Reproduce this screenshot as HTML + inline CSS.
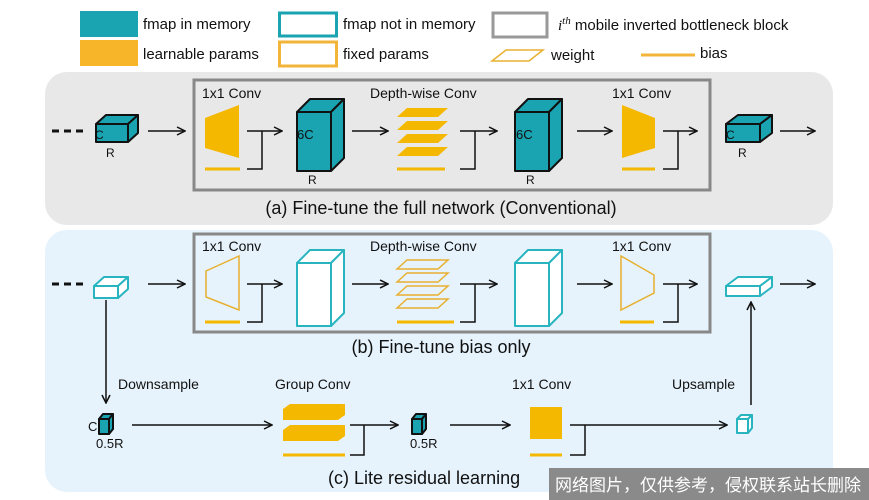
<!DOCTYPE html>
<html><head><meta charset="utf-8"><style>
body{margin:0;background:#fff}
svg{display:block}
text{font-family:"Liberation Sans",Arial,sans-serif;fill:#111}
</style></head><body>
<svg width="869" height="500" viewBox="0 0 869 500" xmlns="http://www.w3.org/2000/svg">
<defs>
<marker id="ar" markerWidth="10" markerHeight="10" refX="9" refY="5" orient="auto" markerUnits="userSpaceOnUse">
<path d="M1,1 L9,5 L1,9" fill="none" stroke="#111" stroke-width="1.5"/></marker>
</defs>
<rect width="869" height="500" fill="#fff"/>
<!-- legend -->
<rect x="80" y="11" width="58" height="26" fill="#1aa3b0"/>
<text x="143" y="29" font-size="15">fmap in memory</text>
<rect x="80" y="40" width="58" height="26" fill="#f7b52a"/>
<text x="143" y="59" font-size="15">learnable params</text>
<rect x="279.500" y="13" width="57" height="23" fill="none" stroke="#1aa3b0" stroke-width="3"/>
<text x="343" y="29" font-size="15">fmap not in memory</text>
<rect x="279.500" y="42" width="57" height="24" fill="none" stroke="#f2b53a" stroke-width="3"/>
<text x="343" y="59" font-size="15">fixed params</text>
<rect x="493" y="13" width="54" height="24" fill="none" stroke="#999" stroke-width="3"/>
<text x="558" y="30" font-size="15"><tspan font-family="Liberation Serif" font-style="italic">i</tspan><tspan font-family="Liberation Serif" font-style="italic" font-size="11" dy="-6">th</tspan><tspan dy="6"> mobile inverted bottleneck block</tspan></text>
<polygon points="492,61 506,50 543,50 529,61" fill="none" stroke="#e8b030" stroke-width="1.5"/>
<text x="551" y="60" font-size="15">weight</text>
<line x1="641" y1="55" x2="695" y2="55" stroke="#f2b53a" stroke-width="3"/>
<text x="700" y="58" font-size="15">bias</text>

<!-- panel a -->
<rect x="45" y="72" width="788" height="153" rx="22" fill="#e8e8e8"/>
<rect x="194" y="80" width="516" height="110" fill="none" stroke="#888" stroke-width="3"/>
<text x="441" y="214" font-size="18" text-anchor="middle">(a) Fine-tune the full network (Conventional)</text>
<text x="202" y="98" font-size="14">1x1 Conv</text>
<text x="370" y="98" font-size="14">Depth-wise Conv</text>
<text x="612" y="98" font-size="14">1x1 Conv</text>
<line x1="52" y1="131" x2="86" y2="131" stroke="#111" stroke-width="3" stroke-dasharray="7,5"/>
<g fill="#1aa3b0" stroke="#111" stroke-width="2" stroke-linejoin="round">
<polygon points="96,124 106,115 138,115 128,124"/><polygon points="128,124 138,115 138,133 128,142"/><rect x="96" y="124" width="32" height="18"/>
<polygon points="297,112 310,99 344,99 331,112"/><polygon points="331,112 344,99 344,158 331,171"/><rect x="297" y="112" width="34" height="59"/>
<polygon points="515,112 528,99 562,99 549,112"/><polygon points="549,112 562,99 562,158 549,171"/><rect x="515" y="112" width="34" height="59"/>
<polygon points="726,124 738,115 772,115 760,124"/><polygon points="760,124 772,115 772,133 760,142"/><rect x="726" y="124" width="34" height="18"/>
</g>
<text x="95" y="139" font-size="12">C</text><text x="106" y="157" font-size="12">R</text>
<text x="297" y="139" font-size="13">6C</text><text x="308" y="184" font-size="12">R</text>
<text x="516" y="139" font-size="13">6C</text><text x="526" y="184" font-size="12">R</text>
<text x="726" y="139" font-size="12">C</text><text x="738" y="157" font-size="12">R</text>
<g fill="#f5b800">
<polygon points="205,118 239,105 239,158 205,148"/>
<polygon points="622,105 655,118 655,148 622,158"/>
<polygon points="397,117 407,108 448,108 438,117"/>
<polygon points="397,130 407,121 448,121 438,130"/>
<polygon points="397,143 407,134 448,134 438,143"/>
<polygon points="397,156 407,147 448,147 438,156"/>
</g>
<g stroke="#f5b800" stroke-width="3"><line x1="205" y1="169" x2="240" y2="169"/><line x1="397" y1="169" x2="445" y2="169"/><line x1="622" y1="169" x2="655" y2="169"/></g>
<g stroke="#111" stroke-width="1.5" fill="none">
<line x1="148" y1="131" x2="185" y2="131" marker-end="url(#ar)"/>
<line x1="247" y1="131" x2="282" y2="131" marker-end="url(#ar)"/>
<polyline points="247,169 262,169 262,131"/>
<line x1="352" y1="131" x2="388" y2="131" marker-end="url(#ar)"/>
<line x1="460" y1="131" x2="497" y2="131" marker-end="url(#ar)"/>
<polyline points="460,169 475,169 475,131"/>
<line x1="577" y1="131" x2="612" y2="131" marker-end="url(#ar)"/>
<line x1="663" y1="131" x2="697" y2="131" marker-end="url(#ar)"/>
<polyline points="663,169 678,169 678,131"/>
<line x1="780" y1="131" x2="815" y2="131" marker-end="url(#ar)"/>
</g>

<!-- panel b/c -->
<rect x="45" y="230" width="788" height="262" rx="22" fill="#e6f3fc"/>
<rect x="194" y="234" width="516" height="98" fill="none" stroke="#888" stroke-width="3"/>
<text x="441" y="353" font-size="18" text-anchor="middle">(b) Fine-tune bias only</text>
<text x="202" y="251" font-size="14">1x1 Conv</text>
<text x="370" y="251" font-size="14">Depth-wise Conv</text>
<text x="612" y="251" font-size="14">1x1 Conv</text>
<line x1="52" y1="284" x2="86" y2="284" stroke="#111" stroke-width="3" stroke-dasharray="7,5"/>
<g fill="#fff" stroke="#29b5c0" stroke-width="2" stroke-linejoin="round">
<polygon points="94,286 104,277 128,277 118,286"/><polygon points="118,286 128,277 128,289 118,298"/><rect x="94" y="286" width="24" height="12"/>
<polygon points="297,263 310,250 344,250 331,263"/><polygon points="331,263 344,250 344,313 331,326"/><rect x="297" y="263" width="34" height="63"/>
<polygon points="515,263 528,250 562,250 549,263"/><polygon points="549,263 562,250 562,313 549,326"/><rect x="515" y="263" width="34" height="63"/>
<polygon points="726,286 738,277 772,277 760,286"/><polygon points="760,286 772,277 772,287 760,296"/><rect x="726" y="286" width="34" height="10"/>
<polygon points="737,419 741,415 752,415 748,419"/><polygon points="748,419 752,415 752,428 748,433"/><rect x="737" y="419" width="11" height="14"/>
</g>
<g fill="none" stroke="#e8b030" stroke-width="1.5">
<polygon points="206,271 239,256 239,310 206,297"/>
<polygon points="621,256 654,275 654,293 621,310"/>
<polygon points="397,269 407,260 448,260 438,269"/>
<polygon points="397,282 407,273 448,273 438,282"/>
<polygon points="397,295 407,286 448,286 438,295"/>
<polygon points="397,308 407,299 448,299 438,308"/>
</g>
<g stroke="#f5b800" stroke-width="3"><line x1="205" y1="322" x2="240" y2="322"/><line x1="397" y1="322" x2="454" y2="322"/><line x1="620" y1="322" x2="654" y2="322"/>
<line x1="283" y1="455" x2="345" y2="455"/><line x1="530" y1="455" x2="562" y2="455"/></g>
<g stroke="#111" stroke-width="1.5" fill="none">
<line x1="148" y1="284" x2="185" y2="284" marker-end="url(#ar)"/>
<line x1="247" y1="284" x2="282" y2="284" marker-end="url(#ar)"/>
<polyline points="247,322 262,322 262,284"/>
<line x1="352" y1="284" x2="388" y2="284" marker-end="url(#ar)"/>
<line x1="460" y1="284" x2="497" y2="284" marker-end="url(#ar)"/>
<polyline points="460,322 475,322 475,284"/>
<line x1="577" y1="284" x2="612" y2="284" marker-end="url(#ar)"/>
<line x1="663" y1="284" x2="697" y2="284" marker-end="url(#ar)"/>
<polyline points="663,322 678,322 678,284"/>
<line x1="780" y1="284" x2="815" y2="284" marker-end="url(#ar)"/>
<line x1="106" y1="300" x2="106" y2="403" marker-end="url(#ar)"/>
<line x1="132" y1="425" x2="272" y2="425" marker-end="url(#ar)"/>
<line x1="350" y1="425" x2="398" y2="425" marker-end="url(#ar)"/>
<polyline points="350,455 364,455 364,425"/>
<line x1="450" y1="425" x2="510" y2="425" marker-end="url(#ar)"/>
<line x1="570" y1="425" x2="727" y2="425" marker-end="url(#ar)"/>
<polyline points="570,455 585,455 585,425"/>
<line x1="751" y1="405" x2="751" y2="302" marker-end="url(#ar)"/>
</g>
<g fill="#1aa3b0" stroke="#111" stroke-width="2" stroke-linejoin="round">
<polygon points="99,419 103,414 113,414 109,419"/><polygon points="109,419 113,414 113,429 109,434"/><rect x="99" y="419" width="10" height="15"/>
<polygon points="412,419 416,414 426,414 422,419"/><polygon points="422,419 426,414 426,429 422,434"/><rect x="412" y="419" width="10" height="15"/>
</g>
<g fill="#f5b800">
<polygon points="283,409 290,404 345,404 338,409"/><polygon points="338,409 345,404 345,415 338,420"/><rect x="283" y="409" width="55" height="11"/>
<polygon points="283,430 290,425 345,425 338,430"/><polygon points="338,430 345,425 345,436 338,441"/><rect x="283" y="430" width="55" height="11"/>
<rect x="530" y="407" width="32" height="32"/>
</g>
<text x="118" y="389" font-size="14">Downsample</text>
<text x="275" y="389" font-size="14">Group Conv</text>
<text x="512" y="389" font-size="14">1x1 Conv</text>
<text x="672" y="389" font-size="14">Upsample</text>
<text x="88" y="431" font-size="13">C</text>
<text x="96" y="448" font-size="13">0.5R</text>
<text x="410" y="448" font-size="13">0.5R</text>
<text x="328" y="484" font-size="18">(c) Lite residual learning</text>
<rect x="549" y="468" width="320" height="32" fill="#8a8a8a"/>
<text x="555" y="491" font-size="17" style="fill:#fff;font-family:'Liberation Sans','Noto Sans CJK SC',sans-serif">网络图片，仅供参考，侵权联系站长删除</text>
</svg>
</body></html>
